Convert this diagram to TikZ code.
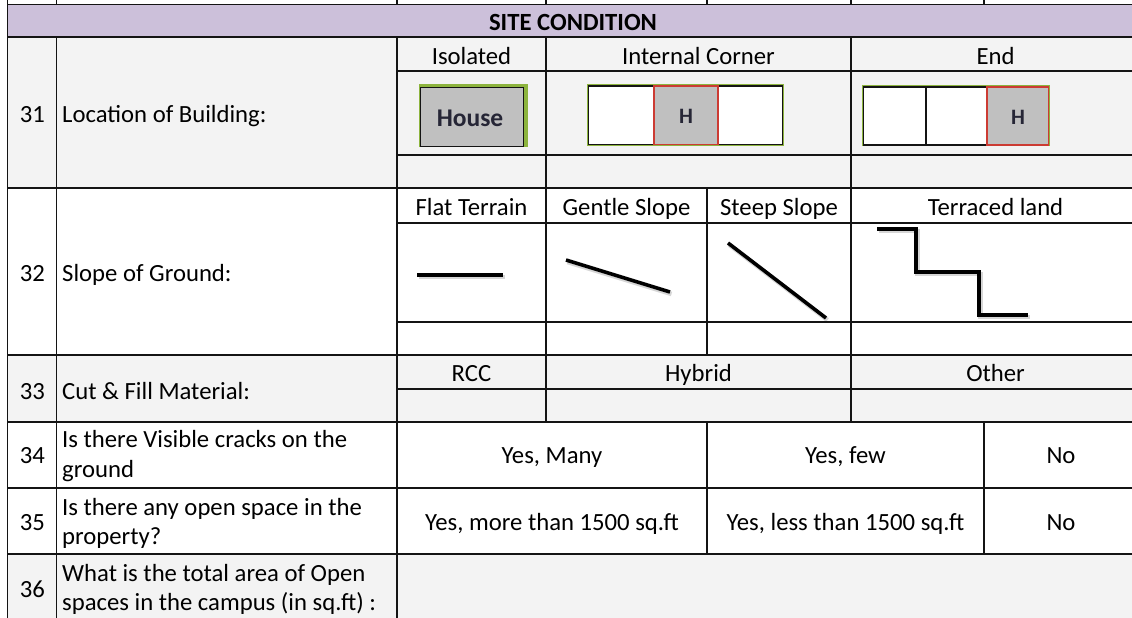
\documentclass[tikz,border=0pt]{standalone}
\usepackage{fontspec}
\setmainfont{Carlito}
\definecolor{gridc}{HTML}{141414}
\definecolor{cellgrey}{HTML}{F3F3F3}
\definecolor{bandc}{HTML}{CCC0DA}
\definecolor{housegreen}{HTML}{8DB43E}
\definecolor{housegrey}{HTML}{C0C0C0}
\definecolor{hred}{HTML}{CC3B33}
\definecolor{housetext}{HTML}{262636}
\begin{document}
\begin{tikzpicture}[x=1pt,y=-1pt,
  gridline/.style={draw=gridc,line width=1.3pt},
  txt/.style={inner sep=0pt,anchor=base,font=\fontsize{24.7}{29.6}\selectfont},
  lbl/.style={txt,anchor=base west},
  slopeline/.style={line width=3.6pt,draw=black,line join=miter},
  slopeshade/.style={line width=4.5pt,draw=black!35,opacity=0.45,line join=miter},
  unitbox/.style={fill=white,draw=gridc,line width=1.2pt},
  hbox/.style={fill=housegrey,draw=hred,line width=1.2pt},
  hlabel/.style={inner sep=0pt,anchor=base,text=housetext,font=\fontsize{22}{26}\selectfont\bfseries}]
% page and clipping
\useasboundingbox (0,0) rectangle (1132,618);
\clip (0,0) rectangle (1132,618);
\fill[white] (0,0) rectangle (1132,618);

% cell fills
\fill[bandc] (7.3,4.5) rectangle (1140,37);
\fill[cellgrey] (7.3,37) rectangle (1140,188);
\fill[cellgrey] (7.3,355) rectangle (1140,422);
\fill[cellgrey] (7.3,554) rectangle (1140,640);

% ---- row 31 pictograms ----
% isolated house
\fill[housegreen] (419,84) rectangle (528,147);
\filldraw[fill=housegrey,draw=gridc,line width=1.2pt] (420.5,87.5) rectangle (523.5,146.3);
\node[inner sep=0pt,anchor=base,text=housetext,font=\fontsize{25.5}{30}\selectfont\bfseries] (house) at (470,126) {House};
% internal corner strip
\fill[housegreen] (587,84) rectangle (784,146);
\path[unitbox] (588.5,86) rectangle (782.5,144.8);
\path[hbox] (654,86) rectangle (718,144.8);
\node[hlabel] (hmid) at (686,123) {H};
% end strip
\fill[housegreen] (862,85) rectangle (1050,146);
\path[unitbox] (863.5,87) rectangle (1048.5,145);
\draw[draw=gridc,line width=1.2pt] (926,87) -- (926,145);
\path[hbox] (987,87) rectangle (1048.5,145);
\node[hlabel] (hend) at (1018,124) {H};

% ---- row 32 slope sketches ----
\begin{scope}[shift={(1.5,2)}]
  \draw[slopeshade] (417,275) -- (503,275);
  \draw[slopeshade] (566,260) -- (670,292);
  \draw[slopeshade] (728,243) -- (826,318);
  \draw[slopeshade] (877,229) -- (916,229) -- (916,272) -- (979,272) -- (979,315) -- (1028,315);
\end{scope}
\draw[slopeline] (417,275) -- (503,275);
\draw[slopeline] (566,260) -- (670,292);
\draw[slopeline] (728,243) -- (826,318);
\draw[slopeline] (877,229) -- (916,229) -- (916,272) -- (979,272) -- (979,315) -- (1028,315);

% ---- grid ----
% full-width rules
\foreach \y in {4.5,37,188,355,422,488,554}
  \draw[gridline] (7.3,\y) -- (1140,\y);
% sub-row rules
\foreach \y in {71,155,223,322,389}
  \draw[gridline] (397,\y) -- (1140,\y);
% left border
\draw[gridline] (7.3,0) -- (7.3,640);
% verticals of the row above the band
\foreach \x in {56.5,397,546,707,851,984}
  \draw[gridline] (\x,0) -- (\x,4.5);
\draw[gridline] (56.5,37) -- (56.5,640);
\draw[gridline] (397,37) -- (397,640);
\draw[gridline] (546,37) -- (546,422);
\draw[gridline] (851,37) -- (851,422);
\draw[gridline] (707,188) -- (707,355);
\draw[gridline] (707,422) -- (707,554);
\draw[gridline] (984,422) -- (984,554);

% ---- texts ----
\node[txt,font=\fontsize{24.7}{29.6}\selectfont\bfseries] (title) at (573,31) {SITE CONDITION};

\node[txt] (n31) at (32.3,122) {31};
\node[lbl] (q31) at (62,122) {Location of Building:};
\node[txt] (isolated) at (471.5,64) {Isolated};
\node[txt] (internal) at (698.5,64) {Internal Corner};
\node[txt] (endh) at (995.5,64) {End};

\node[txt] (n32) at (32.3,281) {32};
\node[lbl] (q32) at (62,281) {Slope of Ground:};
\node[txt] (flat) at (471.5,215) {Flat Terrain};
\node[txt] (gentle) at (626.5,215) {Gentle Slope};
\node[txt] (steep) at (779,215) {Steep Slope};
\node[txt] (terraced) at (995.5,215) {Terraced land};

\node[txt] (n33) at (32.3,399) {33};
\node[lbl] (q33) at (62,399) {Cut \& Fill Material:};
\node[txt] (rcc) at (471.5,381) {RCC};
\node[txt] (hybrid) at (698.5,381) {Hybrid};
\node[txt] (other) at (995.5,381) {Other};

\node[txt] (n34) at (32.3,463) {34};
\node[lbl] (q34a) at (62,447) {Is there Visible cracks on the};
\node[lbl] (q34b) at (62,477) {ground};
\node[txt] (many) at (552,463) {Yes, Many};
\node[txt] (few) at (845.5,463) {Yes, few};
\node[txt] (no34) at (1061,463) {No};

\node[txt] (n35) at (32.3,530) {35};
\node[lbl] (q35a) at (62,515) {Is there any open space in the};
\node[lbl] (q35b) at (62,544) {property?};
\node[txt] (more) at (552,530) {Yes, more than 1500 sq.ft};
\node[txt] (less) at (845.5,530) {Yes, less than 1500 sq.ft};
\node[txt] (no35) at (1061,530) {No};

\node[txt] (n36) at (32.3,597) {36};
\node[lbl] (q36a) at (62,581) {What is the total area of Open};
\node[lbl] (q36b) at (62,610) {spaces in the campus (in sq.ft) :};
\end{tikzpicture}
\end{document}
